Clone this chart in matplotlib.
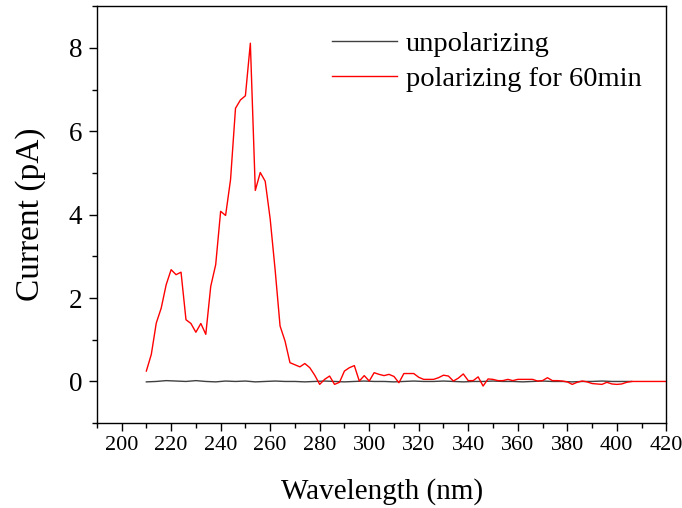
import numpy as np
import matplotlib.pyplot as plt

plt.rcParams['font.family'] = ['Liberation Serif', 'DejaVu Serif']

# polarizing for 60 min, 2 nm steps from 210 nm
wl_pol = np.arange(210, 422, 2)
cur_pol = [0.25, 0.65, 1.40, 1.76, 2.32, 2.68, 2.56, 2.62, 1.48, 1.39,
           1.18, 1.39, 1.13, 2.28, 2.80, 4.08, 3.98, 4.84, 6.55, 6.75,
           6.85, 8.11, 4.58, 5.01, 4.80, 3.90, 2.68, 1.33, 0.97, 0.45,
           0.40, 0.35, 0.43, 0.33, 0.15, -0.07, 0.05, 0.13, -0.07, -0.02,
           0.25, 0.33, 0.38, 0.01, 0.14, 0.01, 0.21, 0.17, 0.14, 0.17,
           0.12, -0.03, 0.19, 0.19, 0.19, 0.10, 0.05, 0.05, 0.05, 0.09,
           0.15, 0.13, 0.01, 0.08, 0.18, 0.02, 0.02, 0.11, -0.11, 0.06,
           0.05, 0.02, 0.02, 0.05, 0.02, 0.05, 0.05, 0.05, 0.05, 0.01,
           0.02, 0.09, 0.02, 0.02, 0.01, -0.01, -0.07, -0.02, 0.01, -0.01,
           -0.05, -0.06, -0.07, -0.02, -0.06, -0.07, -0.06, -0.02, 0.00, 0.00,
           0.00, 0.00, 0.00, 0.00, 0.00, 0.00]

# unpolarizing, 4 nm steps from 210 nm
wl_unp = np.arange(210, 408, 4)
cur_unp = [-0.01, 0.00, 0.02, 0.01, 0.00, 0.02, 0.00, -0.01, 0.01, 0.00,
           0.01, -0.01, 0.00, 0.01, 0.00, 0.00, -0.01, 0.00, 0.01, 0.00,
           -0.01, 0.00, 0.01, 0.00, 0.00, -0.01, 0.00, 0.01, 0.00, 0.00,
           0.01, 0.00, -0.01, 0.00, 0.00, 0.01, 0.00, 0.00, -0.01, 0.00,
           0.01, 0.00, 0.00, -0.01, 0.00, 0.00, 0.01, 0.00, 0.00, 0.00]

fig, ax = plt.subplots(figsize=(6.82, 5.08), dpi=100)
fig.subplots_adjust(left=0.142, right=0.977, top=0.988, bottom=0.167)

ax.plot(wl_unp, cur_unp, color='#404040', lw=1.0, label='unpolarizing')
ax.plot(wl_pol, cur_pol, color='red', lw=1.0, label='polarizing for 60min')

ax.set_xlim(190, 420)
ax.set_ylim(-1, 9)
ax.set_xticks(np.arange(200, 421, 20))
ax.set_xticks(np.arange(190, 421, 10), minor=True)
ax.set_yticks([0, 2, 4, 6, 8])
ax.set_yticks([-1, 1, 3, 5, 7, 9], minor=True)
ax.tick_params(which='both', direction='out', top=False, right=False, width=1.0)
ax.tick_params(which='major', length=5.5)
ax.tick_params(which='minor', length=3.5)
ax.tick_params(axis='x', which='major', labelsize=16, pad=4)
ax.tick_params(axis='y', which='major', labelsize=19.5, pad=5)
for s in ax.spines.values():
    s.set_linewidth(1.0)

ax.set_xlabel('Wavelength (nm)', fontsize=21)
ax.set_ylabel('Current (pA)', fontsize=24)
ax.xaxis.set_label_coords(0.5, -0.132)
ax.yaxis.set_label_coords(-0.09, 0.5)

ax.legend(loc='upper right', frameon=False, fontsize=20.5, handlelength=2.28,
          handletextpad=0.3, labelspacing=0.3, borderaxespad=0.2,
          bbox_to_anchor=(0.986, 0.98))

plt.savefig('out.png')
